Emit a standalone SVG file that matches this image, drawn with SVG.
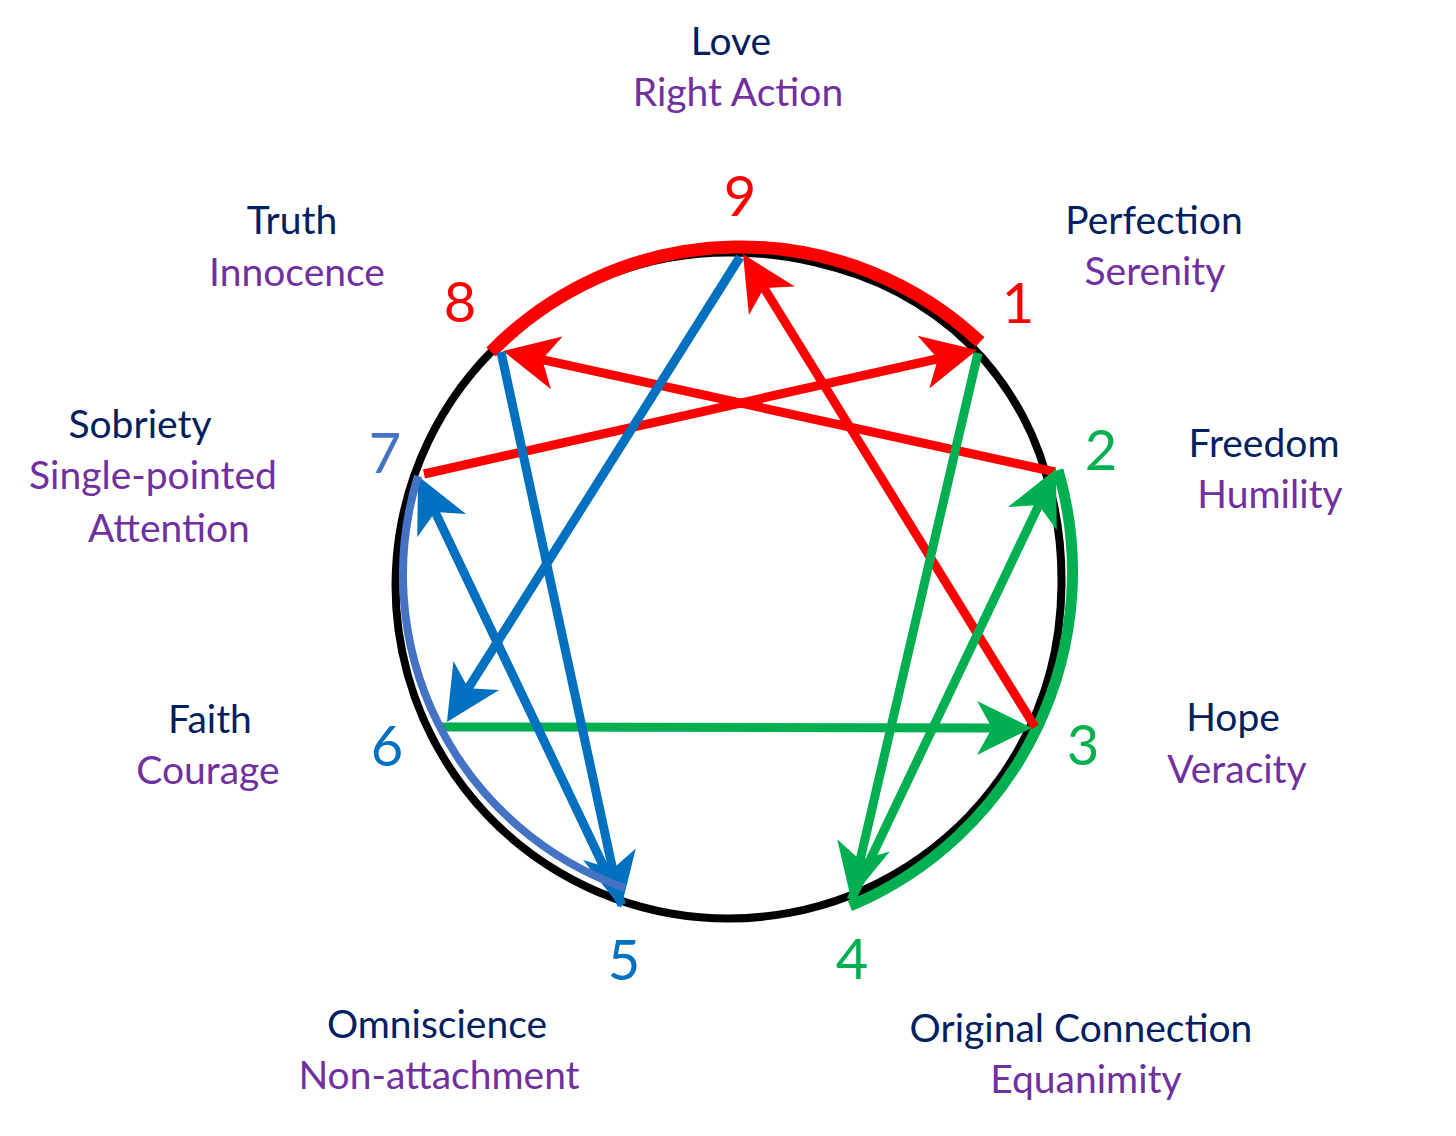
<svg xmlns="http://www.w3.org/2000/svg" width="1456" height="1136" viewBox="0 0 1456 1136">
<defs>
<style>
text{font-family:Lato,"Open Sans","Liberation Sans",sans-serif;text-anchor:middle}
.t{font-size:39px;fill:#002060}
.s{font-size:39px;fill:#7030A0}
.num{font-size:56px}
.red{fill:#FF0000}.green{fill:#00B050}.blue{fill:#0070C0}.lblue{fill:#4472C4}
.ln{fill:none;stroke-width:9;stroke-linecap:butt}
.lr{stroke:#FF0000;marker-end:url(#ar)}
.lg{stroke:#00B050;marker-end:url(#ag)}
.lb{stroke:#0070C0;marker-end:url(#ab)}
</style>
<marker id="ar" markerUnits="userSpaceOnUse" markerWidth="70" markerHeight="70" viewBox="-25 -35 70 70" refX="0" refY="0" orient="auto" overflow="visible"><path d="M40,0 L-15,-27 L0,0 L-15,27 Z" fill="#FF0000"/></marker>
<marker id="ag" markerUnits="userSpaceOnUse" markerWidth="70" markerHeight="70" viewBox="-25 -35 70 70" refX="0" refY="0" orient="auto" overflow="visible"><path d="M40,0 L-15,-27 L0,0 L-15,27 Z" fill="#00B050"/></marker>
<marker id="ab" markerUnits="userSpaceOnUse" markerWidth="70" markerHeight="70" viewBox="-25 -35 70 70" refX="0" refY="0" orient="auto" overflow="visible"><path d="M40,0 L-15,-27 L0,0 L-15,27 Z" fill="#0070C0"/></marker>
</defs>
<rect width="1456" height="1136" fill="#FFFFFF"/>
<g id="circle">
<path d="M728.5,252.5 C757.3,252.3 786.9,255.8 815.1,262.4 C843.3,269 872.05,278.6 897.8,292.3 C923.55,306 948.8,323.8 969.6,344.4 C990.4,365 1008.7,390 1022.5,415.7 C1036.3,441.4 1046.1,470.4 1052.6,498.7 C1059.1,527 1061.9,556.7 1061.5,585.5 C1061.1,614.3 1057.6,643.95 1050.2,671.7 A333,333 0 1 1 728.5,252.5 Z" fill="none" stroke="#000000" stroke-width="8"/>
<path d="M491,352 A349,349 0 0 1 980,342" fill="none" stroke="#FF0000" stroke-width="13"/>
<path d="M1058,470 A362.6,362.6 0 0 1 850,906" fill="none" stroke="#00B050" stroke-width="11"/>
</g>
<g id="connectors">
<line class="ln lr" x1="424" y1="474" x2="938" y2="358.75"/>
<line class="ln lr" x1="1055" y1="472" x2="542.1" y2="359.6"/>
<line class="ln lr" x1="1035" y1="727" x2="764" y2="288"/>
<line class="ln lg" x1="978" y1="353" x2="860.1" y2="860"/>
<line class="ln lg" x1="851" y1="900" x2="1038.8" y2="505.1"/>
<line class="ln lg" x1="441" y1="727" x2="992" y2="727.9"/>
<line class="ln lb" x1="740" y1="257" x2="468.3" y2="688.2"/>
<line class="ln lb" x1="501" y1="352" x2="612.6" y2="868.9"/>
<line class="ln lb" x1="622" y1="905" x2="435.2" y2="512.1"/>
</g>
<g id="arc-7-5">
<path d="M418,476 A332,332 0 0 0 625,888" fill="none" stroke="#4472C4" stroke-width="8"/>
</g>
<g id="node-9">
<text class="num red" x="740" y="216">9</text>
<text class="t" x="731" y="55">Love</text>
<text class="s" x="738" y="106">Right Action</text>
</g>
<g id="node-1">
<text class="num red" x="1018" y="323">1</text>
<text class="t" x="1154" y="234">Perfection</text>
<text class="s" x="1155" y="285">Serenity</text>
</g>
<g id="node-2">
<text class="num green" x="1101" y="470">2</text>
<text class="t" x="1264" y="457">Freedom</text>
<text class="s" x="1270" y="508">Humility</text>
</g>
<g id="node-3">
<text class="num green" x="1083" y="765">3</text>
<text class="t" x="1233" y="731">Hope</text>
<text class="s" x="1237" y="783">Veracity</text>
</g>
<g id="node-4">
<text class="num green" x="852" y="979">4</text>
<text class="t" x="1081" y="1042">Original Connection</text>
<text class="s" x="1086" y="1093">Equanimity</text>
</g>
<g id="node-5">
<text class="num blue" x="624" y="980">5</text>
<text class="t" x="437" y="1038">Omniscience</text>
<text class="s" x="439" y="1089">Non-attachment</text>
</g>
<g id="node-6">
<text class="num blue" x="387" y="766">6</text>
<text class="t" x="210" y="733">Faith</text>
<text class="s" x="208" y="784">Courage</text>
</g>
<g id="node-7">
<text class="num lblue" x="385" y="473">7</text>
<text class="t" x="140" y="438">Sobriety</text>
<text class="s" x="153" y="489">Single-pointed</text>
<text class="s" x="169" y="542">Attention</text>
</g>
<g id="node-8">
<text class="num red" x="460" y="322">8</text>
<text class="t" x="292" y="234">Truth</text>
<text class="s" x="297" y="286">Innocence</text>
</g>
</svg>
